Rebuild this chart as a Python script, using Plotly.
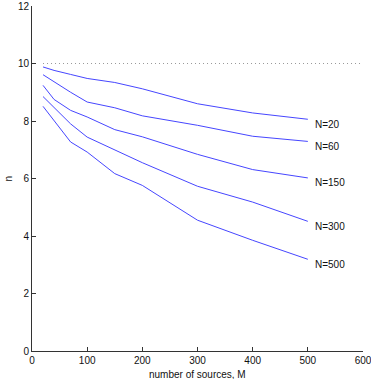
import plotly.graph_objects as go

M = [20, 40, 70, 100, 150, 200, 300, 400, 500]
series_names = ["N=20", "N=60", "N=150", "N=300", "N=500"]
n_N20 = [9.88, 9.76, 9.62, 9.48, 9.34, 9.12, 8.60, 8.28, 8.06]
n_N60 = [9.61, 9.36, 9.00, 8.66, 8.46, 8.18, 7.85, 7.47, 7.29]
n_N150 = [9.24, 8.75, 8.37, 8.14, 7.70, 7.45, 6.84, 6.31, 6.02]
n_N300 = [8.85, 8.48, 7.90, 7.44, 7.00, 6.55, 5.73, 5.18, 4.51]
n_N500 = [8.51, 8.00, 7.27, 6.92, 6.17, 5.76, 4.55, 3.85, 3.19]
ref_x = [20, 600]
ref_y = [10, 10]

all_series = [n_N20, n_N60, n_N150, n_N300, n_N500]
FONT = "Liberation Sans, Arial"

fig = go.Figure()
fig.add_trace(go.Scatter(x=ref_x, y=ref_y, mode="lines",
                         line=dict(color="#999999", width=1, dash="1px,3px"),
                         showlegend=False, hoverinfo="skip"))
for name, ys in zip(series_names, all_series):
    fig.add_trace(go.Scatter(x=M, y=ys, mode="lines", name=name,
                             line=dict(color="rgb(70,70,255)", width=1),
                             showlegend=False))
    fig.add_annotation(x=M[-1], y=ys[-1], text=name, showarrow=False,
                       xanchor="left", yanchor="middle", xshift=5, yshift=-5,
                       font=dict(family=FONT, size=10, color="#111"))

axis_common = dict(showgrid=False, zeroline=False, showline=True, linecolor="#333",
                   linewidth=1, ticks="inside", ticklen=4, tickcolor="#333",
                   automargin=False, ticklabeloverflow="allow",
                   tickfont=dict(family=FONT, size=10, color="#111"))
fig.update_xaxes(range=[0, 600], tickvals=[0, 100, 200, 300, 400, 500, 600],
                 **axis_common)
fig.update_yaxes(range=[0, 12], tickvals=[0, 2, 4, 6, 8, 10, 12],
                 **axis_common)
fig.add_annotation(xref="paper", yref="paper", x=0.5, y=0, yshift=-16,
                   text="number of sources, M", showarrow=False,
                   xanchor="center", yanchor="top",
                   font=dict(family=FONT, size=10, color="#111"))
fig.add_annotation(xref="paper", yref="paper", x=0, y=0.5, xshift=-24,
                   text="n", showarrow=False, textangle=-90,
                   xanchor="center", yanchor="middle",
                   font=dict(family=FONT, size=10, color="#111"))
fig.update_layout(width=371, height=379, margin=dict(l=32, r=8, t=6, b=28, autoexpand=False),
                  plot_bgcolor="white", paper_bgcolor="white")
fig.write_html("out.html", config={"displayModeBar": False},
               post_script="document.body.style.margin='0';document.body.style.overflow='hidden';")
